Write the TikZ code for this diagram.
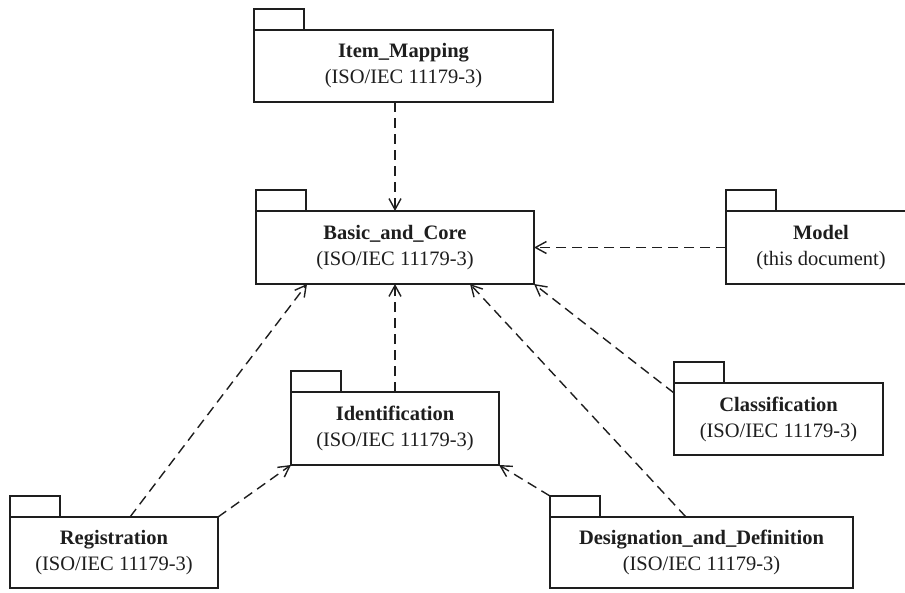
\documentclass[tikz,border=0pt]{standalone}
\usepackage{fontspec}
\setmainfont{Liberation Serif}
\usetikzlibrary{arrows.meta,calc}
\definecolor{ink}{HTML}{1E1E1E}
\begin{document}
\begin{tikzpicture}[x=1pt,y=-1pt,
  pkgbody/.style={draw=ink, line width=2.8pt, fill=white, align=center, inner sep=0pt, outer sep=0pt,
    text=ink, font=\fontsize{20.5}{26}\selectfont},
  pkgtab/.style={draw=ink, line width=2.8pt},
  dep/.style={draw=ink, line width=1.4pt, dash pattern=on 10pt off 6pt,
    -{Straight Barb[length=11pt,width=12pt]}}]
\useasboundingbox (0,0) rectangle (905,592);

\node[pkgbody, minimum width=299pt, minimum height=72pt] (item) at (403.5,66) {\textbf{Item\_Mapping}\\(ISO/IEC 11179-3)};
\node[pkgbody, minimum width=278pt, minimum height=73pt] (basic) at (395,247.5) {\textbf{Basic\_and\_Core}\\(ISO/IEC 11179-3)};
\node[pkgbody, minimum width=190pt, minimum height=73pt] (model) at (821,247.5) {\textbf{Model}\\(this document)};
\node[pkgbody, minimum width=208pt, minimum height=73pt] (ident) at (395,428.5) {\textbf{Identification}\\(ISO/IEC 11179-3)};
\node[pkgbody, minimum width=209pt, minimum height=72pt] (class) at (778.5,419) {\textbf{Classification}\\(ISO/IEC 11179-3)};
\node[pkgbody, minimum width=208pt, minimum height=71pt] (reg) at (114,552.5) {\textbf{Registration}\\(ISO/IEC 11179-3)};
\node[pkgbody, minimum width=303pt, minimum height=71pt] (desig) at (701.5,552.5) {\textbf{Designation\_and\_Definition}\\(ISO/IEC 11179-3)};

\foreach \p in {item,basic,model,ident,class,reg,desig}
  \draw[pkgtab] (\p.north west) rectangle ++(50,-21);

\draw[dep] (item.south -| basic.north) -- (basic.north);
\draw[dep] (model.west |- basic.east) -- (basic.east);
\draw[dep] (ident.north) -- (basic.south);
\draw[dep] ($(class.north west)+(0,10)$) -- (basic.south east);
\draw[dep] ($(reg.north west)+(120,0)$) -- ($(basic.south west)+(51,0)$);
\draw[dep] (reg.north east) -- (ident.south west);
\draw[dep] ($(desig.north west)+(0,-21)$) -- (ident.south east);
\draw[dep] ($(desig.north west)+(136,0)$) -- ($(basic.south west)+(214,0)$);
\end{tikzpicture}
\end{document}
